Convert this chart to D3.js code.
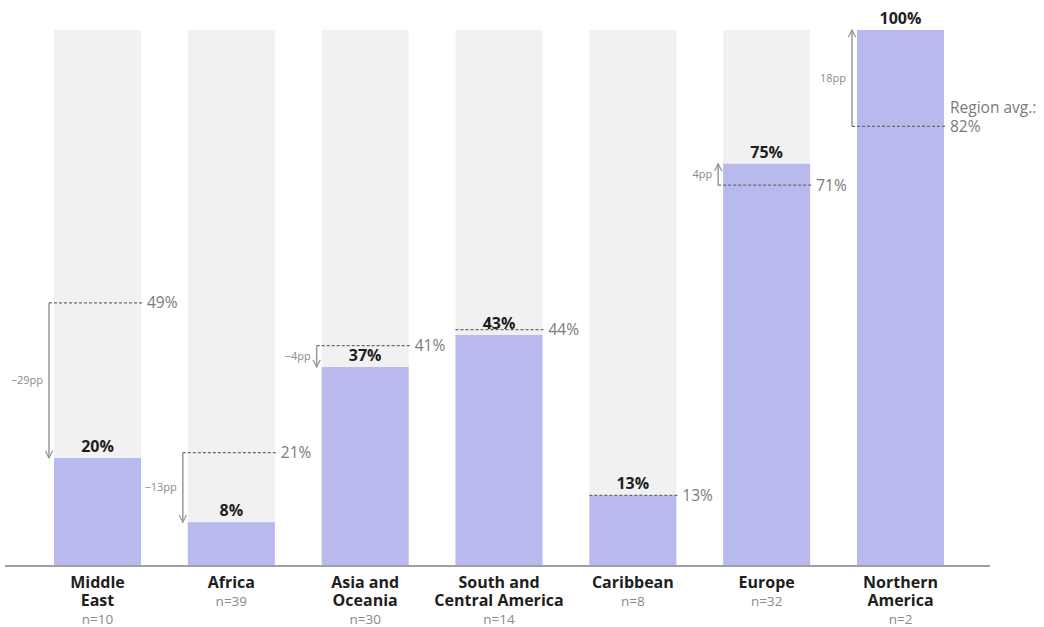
<!DOCTYPE html>
<html>
<head>
<meta charset="utf-8">
<script src="https://cdn.jsdelivr.net/npm/d3@7"></script>
<style>
  html, body { margin: 0; padding: 0; background: #fff; }
  svg { display: block; font-family: "Open Sans", "Noto Sans", sans-serif; }
</style>
</head>
<body>
<svg id="chart" width="1044" height="627"></svg>
<script>
// Share per region, with the overall average for each region
const regions = ["Middle East", "Africa", "Asia and Oceania", "South and Central America", "Caribbean", "Europe", "Northern America"];
const labelLines = [["Middle", "East"], ["Africa"], ["Asia and", "Oceania"], ["South and", "Central America"], ["Caribbean"], ["Europe"], ["Northern", "America"]];
const sampleSizes = [10, 39, 30, 14, 8, 32, 2];
const values = [20, 8, 37, 43, 13, 75, 100];
const regionAvg = [49, 21, 41, 44, 13, 71, 82];
const diffs = [-29, -13, -4, -1, 0, 4, 18];

const svg = d3.select("#chart");
const baseY = 565, topY = 30;

const x = d3.scaleBand().domain(regions).range([54, 944]).paddingInner(0.35).paddingOuter(0);
const y = d3.scaleLinear().domain([0, 100]).range([baseY, topY]);

const data = regions.map((r, i) => ({
  region: r, lines: labelLines[i], n: sampleSizes[i],
  value: values[i], avg: regionAvg[i], diff: diffs[i]
}));

// arrow marker
const defs = svg.append("defs");
defs.append("marker")
  .attr("id", "arr")
  .attr("viewBox", "0 0 10 10")
  .attr("refX", 9).attr("refY", 5)
  .attr("markerWidth", 9).attr("markerHeight", 9)
  .attr("markerUnits", "userSpaceOnUse")
  .attr("orient", "auto")
  .append("path")
  .attr("d", "M1,1 L9,5 L1,9")
  .attr("fill", "none")
  .attr("stroke", "#999")
  .attr("stroke-width", 1.4);

// background track bars (full 100%)
svg.append("g").selectAll("rect").data(data).join("rect")
  .attr("x", d => x(d.region))
  .attr("y", y(100))
  .attr("width", x.bandwidth())
  .attr("height", y(0) - y(100))
  .attr("fill", "#f1f1f1");

// value bars
svg.append("g").selectAll("rect").data(data).join("rect")
  .attr("x", d => x(d.region))
  .attr("y", d => y(d.value))
  .attr("width", x.bandwidth())
  .attr("height", d => y(0) - y(d.value))
  .attr("fill", "#b8b9ec");

// baseline axis
const axis = d3.axisBottom(x).tickSize(0).tickFormat("");
const axisG = svg.append("g").attr("transform", `translate(0,${baseY + 0.5})`).call(axis);
axisG.select(".domain").remove();
svg.append("line")
  .attr("x1", 5).attr("x2", 990)
  .attr("y1", baseY + 1).attr("y2", baseY + 1)
  .attr("stroke", "#a0a0a0").attr("stroke-width", 2);

// region average dashed lines
svg.append("g").selectAll("line").data(data).join("line")
  .attr("x1", d => x(d.region) - (Math.abs(d.diff) > 1 ? 5 : 0))
  .attr("x2", d => x(d.region) + x.bandwidth() + 2)
  .attr("y1", d => y(d.avg)).attr("y2", d => y(d.avg))
  .attr("stroke", "#6a6a6a")
  .attr("stroke-width", 1.2)
  .attr("stroke-dasharray", "3,2");

// average labels
const avgG = svg.append("g").attr("fill", "#7a7a7a").style("font-size", "15.5px");
data.forEach((d, i) => {
  const lx = x(d.region) + x.bandwidth() + 6;
  if (i === data.length - 1) {
    const t = avgG.append("text").attr("x", lx).attr("y", y(d.avg) - 13);
    t.append("tspan").attr("x", lx).text("Region avg.:");
    t.append("tspan").attr("x", lx).attr("dy", 18.5).text(d.avg + "%");
  } else {
    avgG.append("text").attr("x", lx).attr("y", y(d.avg)).attr("dy", "0.35em").text(d.avg + "%");
  }
});

// difference arrows (average -> value)
const arrows = data.filter(d => Math.abs(d.diff) > 1);
const arrG = svg.append("g");
arrG.selectAll("line").data(arrows).join("line")
  .attr("x1", d => x(d.region) - 5).attr("x2", d => x(d.region) - 5)
  .attr("y1", d => y(d.avg))
  .attr("y2", d => y(d.value))
  .attr("stroke", "#999")
  .attr("stroke-width", 1.5)
  .attr("marker-end", "url(#arr)");

arrG.selectAll("text").data(arrows).join("text")
  .attr("x", d => x(d.region) - 11)
  .attr("y", d => (y(d.avg) + y(d.value)) / 2)
  .attr("dy", "0.35em")
  .attr("text-anchor", "end")
  .attr("fill", "#8a8a8a")
  .style("font-size", "11px")
  .text(d => (d.diff < 0 ? "\u2212" + Math.abs(d.diff) : d.diff) + "pp");

// value labels
svg.append("g").selectAll("text").data(data).join("text")
  .attr("x", d => x(d.region) + x.bandwidth() / 2)
  .attr("y", d => y(d.value) - 6)
  .attr("text-anchor", "middle")
  .attr("fill", "#1e1e1e")
  .style("font-size", "16px")
  .style("font-weight", "700")
  .text(d => d.value + "%");

// category labels: name lines plus sample size in one text block
svg.append("g").selectAll("text").data(data).join("text")
  .attr("text-anchor", "middle")
  .attr("y", 588)
  .each(function(d) {
    const t = d3.select(this);
    const cx = x(d.region) + x.bandwidth() / 2;
    d.lines.forEach((ln, k) => {
      t.append("tspan").attr("x", cx).attr("dy", k === 0 ? 0 : 18)
        .attr("fill", "#1e1e1e")
        .style("font-size", "16px").style("font-weight", "700")
        .text(ln);
    });
    t.append("tspan").attr("x", cx).attr("dy", 17.5)
      .attr("fill", "#8a8a8a")
      .style("font-size", "13.5px")
      .text("n=" + d.n);
  });
</script>
</body>
</html>
